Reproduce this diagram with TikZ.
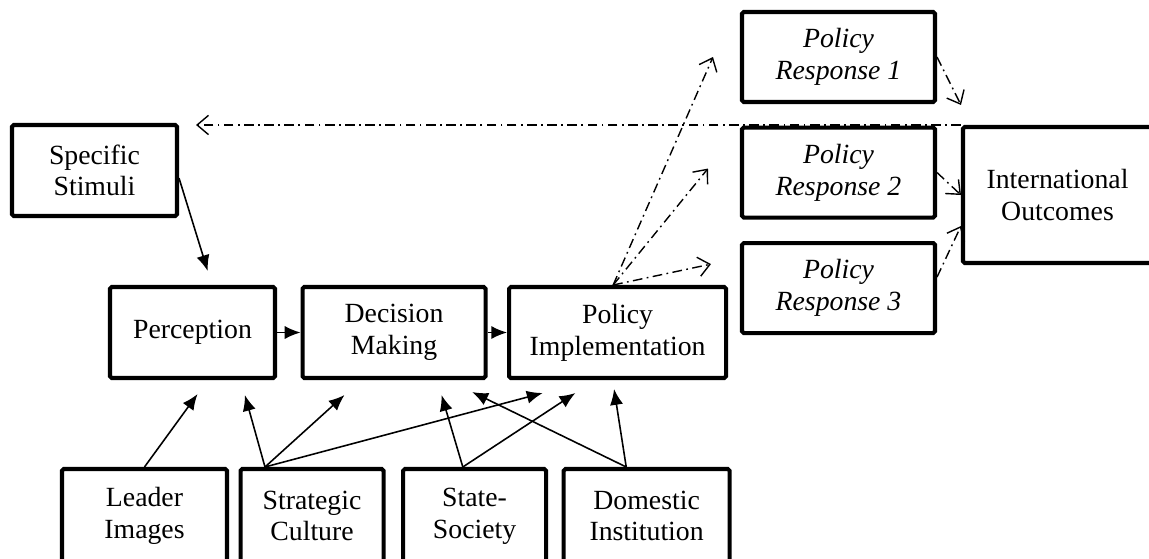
\documentclass[tikz,border=0pt]{standalone}
\usepackage{fontspec}
\setmainfont{Liberation Serif}
\usetikzlibrary{arrows.meta,positioning,calc}
\newcommand{\boxfont}{\fontsize{15.8}{18}\selectfont}

\begin{document}
\begin{tikzpicture}[
    box/.style={rectangle, draw, line width=2.3pt, rounded corners=1pt, minimum height=1.82cm, inner sep=2pt, align=center, font=\boxfont},
    arrow/.style={-{Latex[length=9pt,width=7.5pt]}, line width=0.9pt},
    dasharrow/.style={-{Straight Barb[length=6.5pt,width=11pt]}, line width=0.8pt, dash pattern=on 5.5pt off 2.5pt on 1pt off 2.5pt}
]
\useasboundingbox (0,0) rectangle (22.98,-11.16);

\node[box, minimum width=3.3cm] (stim) at (1.89,-3.41) {Specific\\Stimuli};
\node[box, minimum width=3.3cm] (perc) at (3.85,-6.65) {Perception};
\node[box, minimum width=3.66cm, right=0.47cm of perc] (dec) {Decision\\Making};
\node[box, minimum width=4.34cm, right=0.39cm of dec] (impl) {Policy\\Implementation};

\node[box, minimum width=3.86cm, minimum height=1.8cm, font=\boxfont\itshape] (resp1) at (16.77,-1.14) {Policy\\Response 1};
\node[box, minimum width=3.86cm, minimum height=1.8cm, font=\boxfont\itshape, below=0.43cm of resp1] (resp2) {Policy\\Response 2};
\node[box, minimum width=3.86cm, minimum height=1.8cm, font=\boxfont\itshape, below=0.43cm of resp2] (resp3) {Policy\\Response 3};
\node[box, minimum width=3.78cm, minimum height=2.72cm] (outc) at (21.15,-3.9) {International\\Outcomes};

\node[box, minimum width=3.3cm, minimum height=1.88cm] (leader) at (2.89,-10.32) {Leader\\Images};
\node[box, minimum width=2.86cm, minimum height=1.88cm, right=0.19cm of leader] (strat) {Strategic\\Culture};
\node[box, minimum width=2.86cm, minimum height=1.88cm, right=0.31cm of strat] (state) {State-\\Society};
\node[box, minimum width=3.32cm, minimum height=1.88cm, right=0.27cm of state] (dom) {Domestic\\Institution};

\draw[arrow] ($(stim.north east)!0.58!(stim.south east)$) -- ($(perc.north west)!0.59!(perc.north east)+(0,0.28)$);
\draw[arrow] (perc) -- (dec);
\draw[arrow] (dec) -- (impl);

\draw[arrow] (leader.north) -- ($(perc.south west)!0.53!(perc.south east)+(0,-0.28)$);
\draw[arrow] ($(strat.north west)!0.18!(strat.north east)$) -- ($(perc.south west)!0.81!(perc.south east)+(0,-0.3)$);
\draw[arrow] ($(strat.north west)!0.18!(strat.north east)$) -- ($(dec.south west)!0.235!(dec.south east)+(0,-0.3)$);
\draw[arrow] ($(strat.north west)!0.18!(strat.north east)$) -- ($(impl.south west)!0.161!(impl.south east)+(0,-0.26)$);
\draw[arrow] ($(state.north west)!0.42!(state.north east)$) -- ($(dec.south west)!0.754!(dec.south east)+(0,-0.3)$);
\draw[arrow] ($(state.north west)!0.42!(state.north east)$) -- ($(impl.south west)!0.309!(impl.south east)+(0,-0.26)$);
\draw[arrow] ($(dom.north west)!0.38!(dom.north east)$) -- ($(dec.south west)!0.918!(dec.south east)+(0,-0.24)$);
\draw[arrow] ($(dom.north west)!0.38!(dom.north east)$) -- ($(impl.south west)!0.484!(impl.south east)+(0,-0.18)$);

\coordinate (fbtip) at ($(stim.north east)+(0.34,0)$);
\draw[dasharrow] (outc.north west) -- (fbtip |- outc.north west);

\coordinate (implout) at ($(impl.north west)!0.48!(impl.north east)$);
\draw[dasharrow] (implout) -- ($(resp1.west)+(-0.54,0)$);
\draw[dasharrow] (implout) -- ($(resp2.west)+(-0.64,0.08)$);
\draw[dasharrow] (implout) -- ($(resp3.west)+(-0.58,0.48)$);
\draw[dasharrow] (resp1.east) -- ($(outc.north west)+(0,0.4)$);
\draw[dasharrow] (resp2.east) -- (outc.west);
\draw[dasharrow] ($(resp3.east)+(0,0.22)$) -- ($(outc.west)+(0,-0.62)$);
\end{tikzpicture}
\end{document}
